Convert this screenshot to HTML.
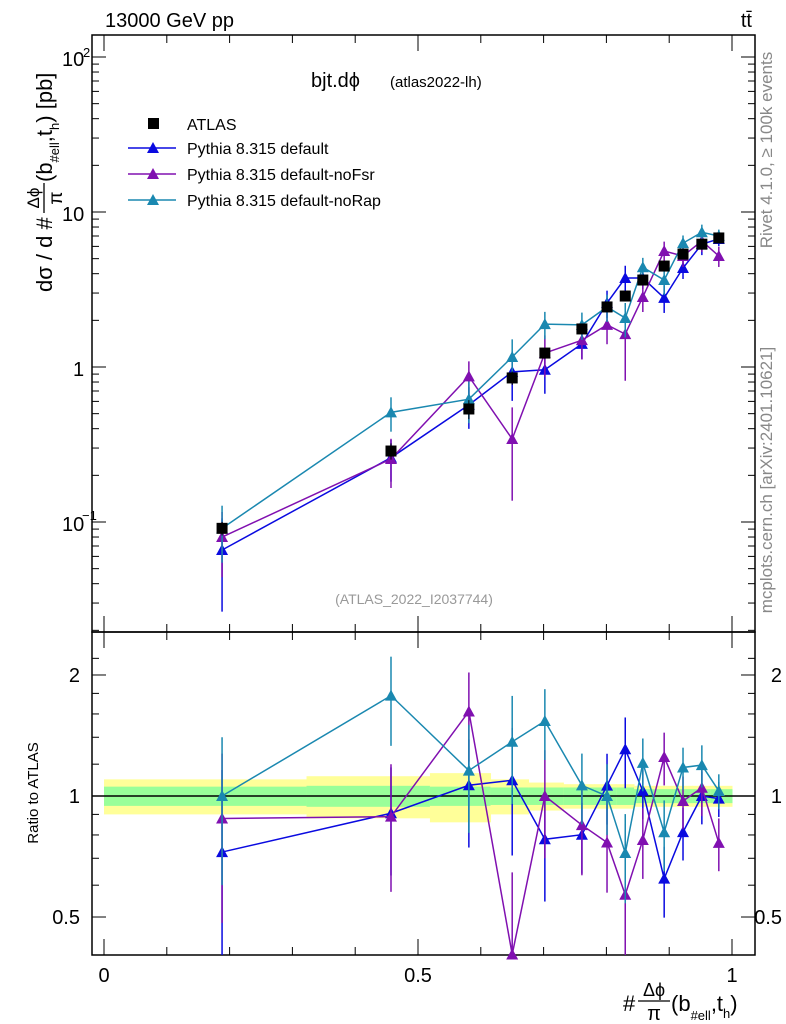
<!DOCTYPE html>
<html><head><meta charset="utf-8"><style>
body{margin:0;background:#fff}svg{display:block;font-family:"Liberation Sans",sans-serif}
</style></head><body>
<svg id="c" width="786" height="1024"></svg>
<script>
const xs=[0.188,0.457,0.581,0.650,0.702,0.761,0.801,0.830,0.858,0.892,0.922,0.952,0.979];
const dataVals=[0.091,0.287,0.536,0.85,1.23,1.76,2.44,2.87,3.64,4.48,5.35,6.2,6.8];
const dataErr=[0.1,0.12,0.14,0.1,0.08,0.07,0.07,0.07,0.06,0.06,0.06,0.06,0.06];
const dataStat=[0.055,0.06,0.055,0.05,0.05,0.05,0.05,0.05,0.04,0.04,0.04,0.04,0.04];
const defVals=[0.066,0.26,0.57,0.93,0.96,1.41,2.59,3.75,3.75,2.79,4.35,6.2,6.7];
const defErr=[0.6,0.3,0.3,0.35,0.3,0.2,0.2,0.2,0.15,0.2,0.15,0.15,0.1];
const fsrVals=[0.080,0.255,0.87,0.343,1.23,1.49,1.87,1.63,2.83,5.6,5.2,6.5,5.2];
const fsrErr=[0.45,0.35,0.25,0.6,0.3,0.25,0.25,0.5,0.2,0.15,0.15,0.15,0.15];
const rapVals=[0.091,0.51,0.62,1.16,1.89,1.87,2.44,2.07,4.4,3.64,6.3,7.4,7.0];
const rapErr=[0.4,0.25,0.3,0.3,0.2,0.2,0.2,0.25,0.15,0.2,0.12,0.12,0.1];
const series=[
 {name:'Pythia 8.315 default',vals:defVals,err:defErr,col:'#0a0ae0',key:'default'},
 {name:'Pythia 8.315 default-noFsr',vals:fsrVals,err:fsrErr,col:'#8010b0',key:'nofsr'},
 {name:'Pythia 8.315 default-noRap',vals:rapVals,err:rapErr,col:'#1a88b0',key:'norap'}];
const NS='http://www.w3.org/2000/svg',svg=document.getElementById('c');
function el(t,a,p){const e=document.createElementNS(NS,t);for(const k in a)e.setAttribute(k,a[k]);(p||svg).appendChild(e);return e;}
const X=v=>104+628*v, Y=v=>367-155*Math.log10(v), R=v=>796-402*Math.log10(v);
const L=92,Rt=755,T=35,M=632,B=955;
const edges=[0];for(let i=0;i<xs.length-1;i++)edges.push((xs[i]+xs[i+1])/2);edges.push(1);
for(let i=0;i<xs.length;i++){
 let e=el('rect',{x:X(edges[i]),y:R(1+dataErr[i]),width:X(edges[i+1])-X(edges[i])+0.5,height:R(1-dataErr[i])-R(1+dataErr[i]),fill:'#ffff99'});
 
 let g=el('rect',{x:X(edges[i]),y:R(1+dataStat[i]),width:X(edges[i+1])-X(edges[i])+0.5,height:R(1-dataStat[i])-R(1+dataStat[i]),fill:'#99ff99'});
 
}
el('line',{x1:L,x2:Rt,y1:R(1),y2:R(1),stroke:'#000','stroke-width':1.5});
el('rect',{x:L,y:T,width:Rt-L,height:M-T,fill:'none',stroke:'#000','stroke-width':1.5});
el('rect',{x:L,y:M,width:Rt-L,height:B-M,fill:'none',stroke:'#000','stroke-width':1.5});
for(let d=-2;d<=2;d++)for(let m=1;m<10;m++){const v=m*Math.pow(10,d),y=Y(v);if(y<T||y>M)continue;const len=m==1?14:7;
 el('line',{x1:L,x2:L+len,y1:y,y2:y,stroke:'#000'});el('line',{x1:Rt,x2:Rt-len,y1:y,y2:y,stroke:'#000'});}
[0.5,0.6,0.7,0.8,0.9,1,1.2,1.4,1.6,1.8,2,2.2].forEach(v=>{const y=R(v);if(y<M||y>B)return;const len=(v==0.5||v==1||v==2)?14:7;
 el('line',{x1:L,x2:L+len,y1:y,y2:y,stroke:'#000'});el('line',{x1:Rt,x2:Rt-len,y1:y,y2:y,stroke:'#000'});});
for(let i=0;i<=10;i++){const x=X(i/10),len=i%5==0?16:8;
 [[T,1],[M,-1],[M,1],[B,-1]].forEach(([y,s])=>el('line',{x1:x,x2:x,y1:y,y2:y+s*len,stroke:'#000'}));}
function txt(s,x,y,a,name,extra,p){const t=el('text',Object.assign({x:x,y:y,'font-size':20,'text-anchor':a||'start'},extra||{}),p);t.textContent=s;return t;}
txt('10',62,66,'start','y-tick-100');txt('2',83,57,'start','y-tick-exp',{'font-size':13});
txt('10',62,221,'start','y-tick-10');txt('1',73,376,'start','y-tick-1');
txt('10',62,531,'start','y-tick-0.1');txt('−1',82,520,'start','y-tick-exp',{'font-size':13});
[[2,'2'],[1,'1'],[0.5,'0.5']].forEach(([v,s])=>{txt(s,80,R(v)+7,'end','ratio-tick-left');txt(s,782,R(v)+7,'end','ratio-tick-right');});
[[0,'0'],[0.5,'0.5'],[1,'1']].forEach(([v,s])=>txt(s,X(v),982,'middle','x-tick'));
txt('13000 GeV pp',105,27,'start','header-left');txt('tt̄',752,27,'end','header-right');
txt('bjt.dϕ',311,87,'start','plot-title');txt('(atlas2022-lh)',390,87,'start','plot-subtitle',{'font-size':15});
txt('(ATLAS_2022_I2037744)',414,604,'middle','analysis-id',{'font-size':14,fill:'#999'});
txt('Ratio to ATLAS',38,793,'middle','ratio-y-title',{'font-size':15,transform:'rotate(-90 38 793)'});
const gy=el('g',{transform:'translate(52,292) rotate(-90)'});
txt('dσ / d #',0,0,'start','y-title-prefix',{'font-size':22},gy);
txt('Δϕ',94,-13,'middle','y-title-num',{'font-size':17},gy);
el('line',{x1:79,x2:109,y1:-8,y2:-8,stroke:'#000','stroke-width':1.3},gy);
txt('π',94,10,'middle','y-title-den',{'font-size':19},gy);
const yt=txt('',110,0,'start','y-title-suffix',{'font-size':22},gy);
yt.innerHTML='(b<tspan font-size="13" dy="7">#ell</tspan><tspan dy="-7">,t</tspan><tspan font-size="13" dy="7">h</tspan><tspan dy="-7">) [pb]</tspan>';
const gx=el('g',{});
txt('#',623,1011,'start','x-title-prefix',{'font-size':22},gx);
txt('Δϕ',654,996,'middle','x-title-num',{'font-size':18},gx);
el('line',{x1:638,x2:670,y1:1001,y2:1001,stroke:'#000','stroke-width':1.3},gx);
txt('π',654,1020,'middle','x-title-den',{'font-size':20},gx);
const xt=txt('',671,1011,'start','x-title-suffix',{'font-size':22},gx);
xt.innerHTML='(b<tspan font-size="13" dy="9">#ell</tspan><tspan dy="-9">,t</tspan><tspan font-size="13" dy="7">h</tspan><tspan dy="-7">)</tspan>';
txt('Rivet 4.1.0, ≥ 100k events',772,150,'middle','rivet-label',{'font-size':17,fill:'#888',transform:'rotate(-90 772 150)'});
txt('mcplots.cern.ch [arXiv:2401.10621]',772,480,'middle','mcplots-label',{'font-size':17,fill:'#888',transform:'rotate(-90 772 480)'});
function tri(x,y,c,name){const p=el('polygon',{points:`${x},${y-6} ${x-6},${y+5} ${x+6},${y+5}`,fill:c});}
series.forEach(s=>{
 const pts=xs.map((x,i)=>X(x)+','+Y(s.vals[i])).join(' ');
 let l=el('polyline',{points:pts,fill:'none',stroke:s.col,'stroke-width':1.5});
 const rp=xs.map((x,i)=>X(x)+','+R(s.vals[i]/dataVals[i])).join(' ');
 let rl=el('polyline',{points:rp,fill:'none',stroke:s.col,'stroke-width':1.5});
 xs.forEach((x,i)=>{const v=s.vals[i],e=s.err[i],r=v/dataVals[i];
  el('line',{x1:X(x),x2:X(x),y1:Y(v*(1+e)),y2:Y(v*(1-e)),stroke:s.col,'stroke-width':1.5});
  el('line',{x1:X(x),x2:X(x),y1:Math.max(M,R(r*(1+e))),y2:Math.min(B,R(r*(1-e))),stroke:s.col,'stroke-width':1.5});
  tri(X(x),Y(v),s.col,s.key+'-point');
  if(R(r)<B&&R(r)>M)tri(X(x),R(r),s.col,s.key+'-ratio-point');});
});
xs.forEach((x,i)=>{const v=dataVals[i];
 el('line',{x1:X(x),x2:X(x),y1:Y(v*(1+dataErr[i])),y2:Y(v*(1-dataErr[i])),stroke:'#000'});
 const r=el('rect',{x:X(x)-5.5,y:Y(v)-5.5,width:11,height:11,fill:'#000'});});
const lg=el('g',{});
el('rect',{x:148,y:118,width:11,height:11,fill:'#000'},lg);txt('ATLAS',187,130,'start','legend-entry-atlas',{'font-size':16},lg);
series.forEach((s,i)=>{const y=148+i*26;el('line',{x1:128,x2:176,y1:y,y2:y,stroke:s.col,'stroke-width':1.5},lg);
 const p=el('polygon',{points:`153,${y-6} 147,${y+5} 159,${y+5}`,fill:s.col},lg);
 txt(s.name,187,y+6,'start','legend-entry-'+s.key,{'font-size':16},lg);});
</script>
</body></html>
